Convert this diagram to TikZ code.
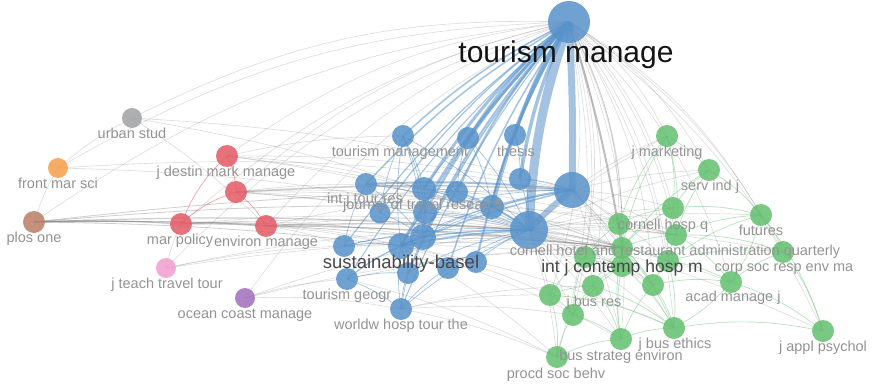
\documentclass[tikz,border=0pt]{standalone}
\usepackage{fontspec}
\setmainfont{Liberation Sans}
\usetikzlibrary{calc}
\definecolor{vosblue}{RGB}{88,146,202}
\definecolor{vosred}{RGB}{228,90,102}
\definecolor{vosgreen}{RGB}{98,192,112}
\definecolor{vosgrey}{RGB}{160,162,164}
\definecolor{vosorange}{RGB}{245,158,72}
\definecolor{vosbrown}{RGB}{186,128,102}
\definecolor{vospink}{RGB}{240,158,208}
\definecolor{vospurple}{RGB}{162,108,188}
\pgfdeclarelayer{paper}
\pgfdeclarelayer{links}
\pgfsetlayers{paper,links,main}
\def\journal(#1)(#2)#3#4{\node[jnode=#3, fill=#4] (#1) at (#2) {};}
\def\jname(#1)(#2)#3{\node[jtext] (l-#1) at ($(#1)+(#2)$) {#3};}

\begin{document}
\begin{tikzpicture}[x=1pt, y=-1pt,
    jnode/.style={circle, inner sep=0pt, minimum size=#1, fill opacity=0.85},
    jtext/.style={inner sep=0pt, text height=10.5pt, text depth=3pt, text=black!42,
      font=\fontsize{14.5}{15}\selectfont},
    gline/.style={draw=black!55, draw opacity=0.25, line width=#1, bend left=14},
    gline/.default=0.6,
    bline/.style={draw=vosblue, draw opacity=0.55, line width=#1, bend left=8},
    bline/.default=0.7,
    nline/.style={draw=vosgreen, draw opacity=0.45, line width=0.7, bend left=10},
    rline/.style={draw=vosred, draw opacity=0.55, line width=0.7, bend left=12}]
  \begin{pgfonlayer}{paper}
    \useasboundingbox[fill=white] (0,0) rectangle (873,388);
  \end{pgfonlayer}
  %%%%% JOURNALS %%%%%
  \journal(tm)(569,22){42}{vosblue}
  \journal(b1)(403,136){22}{vosblue}
  \journal(b2)(468,138){22}{vosblue}
  \journal(b3)(515,135){22}{vosblue}
  \journal(b4)(366,184){22}{vosblue}
  \journal(b5)(424,189){24}{vosblue}
  \journal(b6)(457,192){22}{vosblue}
  \journal(b7)(520,179){22}{vosblue}
  \journal(b8)(572,190){36}{vosblue}
  \journal(b9)(380,213){21}{vosblue}
  \journal(b10)(425,212){24}{vosblue}
  \journal(b11)(492,207){24}{vosblue}
  \journal(b12)(529,230){38}{vosblue}
  \journal(b13)(344,246){22}{vosblue}
  \journal(b14)(401,246){26}{vosblue}
  \journal(b15)(423,237){26}{vosblue}
  \journal(b16)(347,279){22}{vosblue}
  \journal(b17)(408,273){22}{vosblue}
  \journal(b18)(448,268){22}{vosblue}
  \journal(b19)(476,262){22}{vosblue}
  \journal(b20)(401,309){22}{vosblue}

  \journal(r1)(227,156){22}{vosred}
  \journal(r2)(236,192){22}{vosred}
  \journal(r3)(181,224){22}{vosred}
  \journal(r4)(266,226){22}{vosred}
  \journal(us)(132,118){20}{vosgrey}
  \journal(fm)(58,168){20}{vosorange}
  \journal(po)(34,222){22}{vosbrown}
  \journal(jt)(166,268){20}{vospink}
  \journal(oc)(245,298){20}{vospurple}

  \journal(g1)(667,136){22}{vosgreen}
  \journal(g2)(709,170){22}{vosgreen}
  \journal(g3)(673,208){22}{vosgreen}
  \journal(g4)(761,215){22}{vosgreen}
  \journal(g5)(619,224){22}{vosgreen}
  \journal(g6)(676,235){22}{vosgreen}
  \journal(g7)(783,252){22}{vosgreen}
  \journal(g8)(622,248){22}{vosgreen}
  \journal(g9)(585,257){22}{vosgreen}
  \journal(g10)(622,266){22}{vosgreen}
  \journal(g11)(668,261){22}{vosgreen}
  \journal(g12)(593,286){22}{vosgreen}
  \journal(g13)(550,295){22}{vosgreen}
  \journal(g14)(653,285){22}{vosgreen}
  \journal(g15)(731,282){22}{vosgreen}
  \journal(g16)(573,315){22}{vosgreen}
  \journal(g17)(674,328){22}{vosgreen}
  \journal(g18)(621,339){22}{vosgreen}
  \journal(g19)(557,357){22}{vosgreen}
  \journal(g20)(823,331){22}{vosgreen}

  %%%%% NAMES %%%%%
  \node[jtext, text=black!92, font=\fontsize{30}{30}\selectfont, text height=21pt, text depth=6pt]
    (l-tm) at ($(tm)+(-3,33)$) {tourism manage};
  \node[jtext, text=black!72, font=\fontsize{18.5}{19}\selectfont, text height=13pt, text depth=4pt]
    (l-b14) at ($(b14)+(0,18)$) {sustainability-basel};
  \node[jtext, text=black!72, font=\fontsize{17.5}{18}\selectfont, text height=12.5pt, text depth=4pt]
    (l-g8) at ($(g8)+(0,20)$) {int j contemp hosp m};
  \jname(b1)(-3,17){tourism management}
  \jname(b3)(1,18){thesis}
  \jname(b4)(-1,16){int j tour res}
  \jname(b5)(-1,17){journal of travel research}
  \jname(b16)(0,17){tourism geogr}
  \jname(b20)(0,17){worldw hosp tour the}
  \jname(r1)(-1,17){j destin mark manage}
  \jname(r3)(-1,17){mar policy}
  \jname(r4)(0,17){environ manage}
  \jname(us)(0,17){urban stud}
  \jname(fm)(0,17){front mar sci}
  \jname(po)(0,17){plos one}
  \jname(jt)(1,17){j teach travel tour}
  \jname(oc)(0,17){ocean coast manage}
  \jname(g1)(0,17){j marketing}
  \jname(g2)(1,17){serv ind j}
  \jname(g3)(-10,18){cornell hosp q}
  \jname(g4)(0,17){futures}
  \jname(g6)(-1,17){cornell hotel and restaurant administration quarterly}
  \jname(g7)(1,16){corp soc resp env ma}
  \jname(g12)(1,17){j bus res}
  \jname(g15)(2,16){acad manage j}
  \jname(g17)(1,17){j bus ethics}
  \jname(g18)(0,18){bus strateg environ}
  \jname(g19)(-1,18){procd soc behv}
  \jname(g20)(0,17){j appl psychol}

  %%%%% LINKS %%%%%
  \begin{pgfonlayer}{links}
    \foreach \a in {us,fm,po,r1,r2,r3,r4,jt,oc}
      \draw[gline] (\a.center) to (tm.center);
    \foreach \i in {1,...,20}
      \draw[gline] (tm.center) to (g\i.center);
    \draw[gline=2, draw opacity=0.45, bend left=4] (tm.center) to (g8.center);
    \foreach \a/\w in {b1/1.5,b2/2.5,b3/3,b4/1.5,b5/3,b6/2,b7/3.5,b9/1.2,b10/2.5,b11/4,
        b12/9,b13/1.2,b14/3,b15/2,b16/1,b17/1.5,b18/1.5,b19/2,b20/1}
      \draw[bline=\w] (\a.center) to (tm.center);
    \draw[bline=7, bend left=2] (tm.center) to (b8.center);

    \foreach \a/\b/\w in {po/r3/1.4,r3/r4/1.4,po/b12/1.2,po/b8/0.8,po/b14/0.8,po/g8/1,
        po/b11/0.8,po/b15/0.8,r4/b12/1.4,r2/b8/1.5,r2/b12/1,r4/g8/1}
      \draw[gline=\w, draw opacity=0.35, bend left=3] (\a.center) to (\b.center);
    \foreach \a/\b in {r3/r1,r3/r2,r2/r4,r1/r2}
      \draw[rline] (\a.center) to (\b.center);
    \foreach \a/\b in {po/fm,fm/us,r1/b8,r1/b12,r1/b5,r1/g8,r1/b1,r2/b11,r2/b5,r2/g8,r2/g6,
        r3/b12,r3/b14,r3/g8,r3/b15,r4/b14,r4/b8,r4/g6,r4/b13,us/b12,us/r4,us/b8,
        fm/b12,fm/b8,jt/r3,jt/b12,jt/b14,jt/g8,oc/b16,oc/b12,oc/g8,oc/b20}
      \draw[gline, bend left=6] (\a.center) to (\b.center);

    \foreach \a/\b in {b1/b5,b1/b10,b14/b1,b1/b12,b1/b15,b9/b1,b5/b2,b2/b12,b6/b2,
        b2/b11,b11/b3,b3/b12,b3/b7,b4/b12,b4/b9,b4/b15,b13/b4,b5/b11,b5/b12,b5/b15,
        b5/b6,b6/b12,b6/b11,b7/b8,b7/b12,b15/b8,b10/b8,b9/b12,b9/b15,b10/b12,b15/b10,
        b14/b10,b14/b11,b15/b11,b13/b14,b13/b12,b13/b15,b14/b15,b14/b17,b20/b14,
        b16/b15,b16/b14,b16/b20,b16/b17,b20/b17,b17/b12,b18/b12,b20/b18,b19/b12,
        b20/b12,b20/b15}
      \draw[bline] (\a.center) to (\b.center);
    \foreach \a/\b/\w in {b12/b8/6,b11/b8/2,b4/b8/2,b14/b8/1.5,b11/b12/2,b14/b12/2,b15/b12/1.5}
      \draw[bline=\w, bend left=4] (\a.center) to (\b.center);

    \foreach \i in {1,...,20}
      \draw[gline, bend left=6] (b12.center) to (g\i.center);
    \foreach \a/\b in {b8/g1,b8/g2,b8/g3,b8/g5,b8/g6,b8/g8,b8/g10,b8/g11,b8/g14,
        b8/g17,b8/g18,b14/g8,b14/g10,b14/g13,b14/g17,b14/g18,b14/g19,b20/g13,
        b20/g16,b20/g19,b20/g12,b16/g8,b16/g19,b11/g8,b11/g6,b15/g8,b4/g8,b4/g6,b13/g8}
      \draw[gline, bend left=6] (\a.center) to (\b.center);

    \foreach \a/\b in {g1/g2,g1/g3,g5/g1,g1/g6,g8/g1,g3/g2,g2/g4,g6/g2,g8/g2,g3/g4,
        g5/g3,g3/g6,g8/g3,g11/g3,g6/g4,g4/g7,g11/g4,g4/g15,g4/g20,g5/g8,g5/g10,g9/g5,
        g6/g7,g8/g6,g11/g6,g6/g15,g11/g7,g15/g7,g7/g20,g9/g8,g8/g10,g8/g11,g12/g8,
        g8/g14,g8/g17,g18/g8,g9/g10,g9/g12,g13/g9,g16/g9,g12/g10,g10/g14,g16/g10,
        g10/g17,g18/g10,g14/g11,g11/g15,g11/g17,g13/g12,g16/g12,g12/g18,g12/g17,
        g13/g16,g13/g19,g14/g17,g18/g14,g14/g15,g15/g17,g15/g20,g16/g18,g19/g16,
        g17/g20,g18/g17,g19/g18,g13/g17}
      \draw[nline] (\a.center) to (\b.center);
  \end{pgfonlayer}
\end{tikzpicture}
\end{document}
